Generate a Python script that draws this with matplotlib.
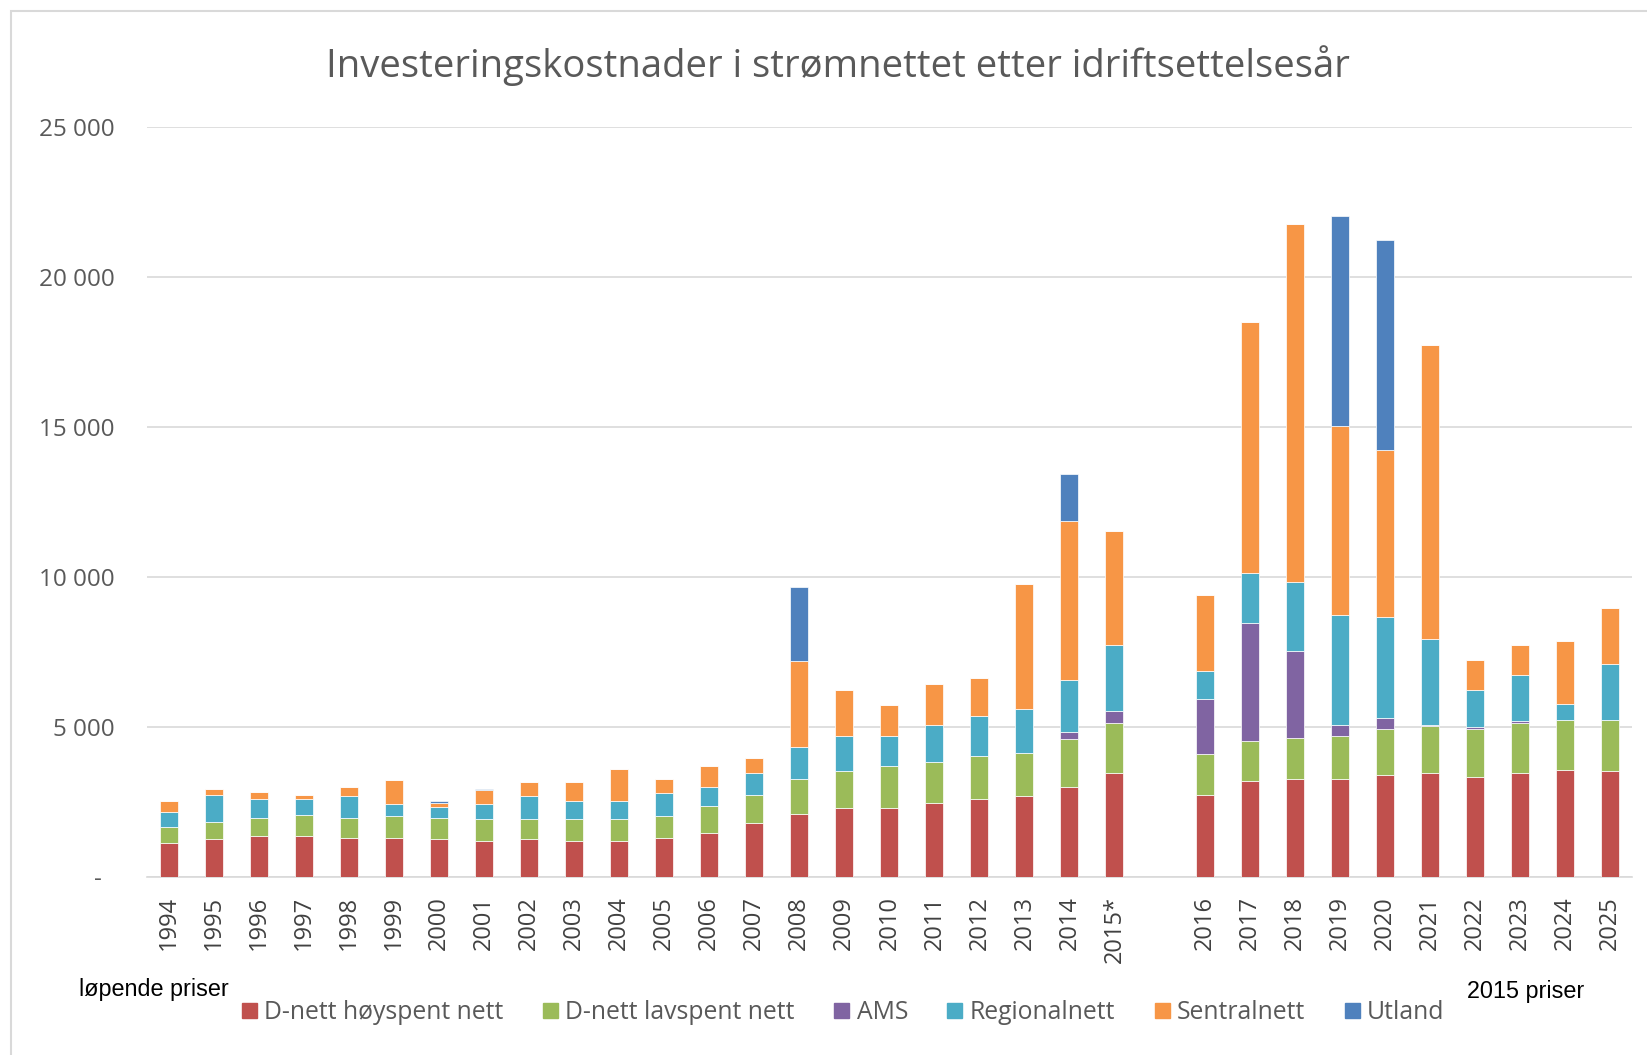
import numpy as np
import matplotlib.pyplot as plt
from matplotlib.patches import Patch, Rectangle
from matplotlib.ticker import FuncFormatter

# categories (the '' entry is the empty slot between 2015* and 2016)
years = ["1994", "1995", "1996", "1997", "1998", "1999", "2000", "2001", "2002",
         "2003", "2004", "2005", "2006", "2007", "2008", "2009", "2010", "2011",
         "2012", "2013", "2014", "2015*", "",
         "2016", "2017", "2018", "2019", "2020", "2021", "2022", "2023", "2024", "2025"]

# MNOK per segment
d_hoy = [1140, 1240, 1340, 1340, 1290, 1290, 1240, 1190, 1240, 1190, 1190, 1290,
         1470, 1780, 2080, 2290, 2290, 2470, 2580, 2680, 2980, 3470, 0,
         2720, 3180, 3270, 3270, 3400, 3470, 3330, 3470, 3560, 3510]
d_lav = [520, 570, 630, 730, 680, 730, 730, 730, 680, 730, 730, 730,
         900, 950, 1190, 1240, 1390, 1360, 1440, 1440, 1600, 1650, 0,
         1360, 1340, 1340, 1430, 1520, 1550, 1600, 1640, 1660, 1710]
ams = [0, 0, 0, 0, 0, 0, 0, 0, 0, 0, 0, 0,
       0, 0, 0, 0, 0, 0, 0, 0, 230, 410, 0,
       1840, 3940, 2920, 370, 360, 50, 50, 70, 0, 0]
regional = [510, 920, 610, 510, 710, 400, 350, 500, 760, 610, 610, 760,
            610, 740, 1050, 1150, 1000, 1240, 1350, 1460, 1750, 2180, 0,
            950, 1660, 2290, 3650, 3390, 2850, 1230, 1550, 550, 1860]
sentral = [360, 200, 250, 150, 300, 800, 150, 460, 490, 640, 1050, 490,
           700, 500, 2880, 1540, 1030, 1340, 1240, 4170, 5290, 3800, 0,
           2530, 8380, 11940, 6290, 5540, 9790, 1000, 980, 2090, 1880]
utland = [0, 0, 0, 0, 0, 0, 60, 50, 0, 0, 0, 0,
          0, 0, 2460, 0, 0, 0, 0, 0, 1560, 0, 0,
          0, 0, 0, 7020, 7010, 0, 0, 0, 0, 0]

series = [("D-nett høyspent nett", d_hoy, "#C0504D"),
          ("D-nett lavspent nett", d_lav, "#9BBB59"),
          ("AMS", ams, "#8064A2"),
          ("Regionalnett", regional, "#4BACC6"),
          ("Sentralnett", sentral, "#F79646"),
          ("Utland", utland, "#4F81BD")]

plt.rcParams['font.family'] = ['Open Sans', 'DejaVu Sans']

fig = plt.figure(figsize=(16.47, 10.55), dpi=100)
ax = fig.add_axes([0.089, 0.169, 0.902, 0.711])

x = np.arange(len(years))
bottom = np.zeros(len(years))
for name, vals, col in series:
    vals = np.array(vals, dtype=float)
    ax.bar(x, vals, 0.4, bottom=bottom, color=col, edgecolor="white",
           linewidth=0.5, label=name, zorder=3)
    bottom += vals

ax.set_xlim(-0.5, len(years) - 0.5)
ax.set_ylim(0, 25000)
ax.set_yticks(np.arange(0, 25001, 5000))
ax.yaxis.set_major_formatter(FuncFormatter(
    lambda v, p: "-  " if v == 0 else f"{v:,.0f}".replace(",", " ")))
ax.set_xticks(x)
ax.set_xticklabels(years, rotation=90)
ax.tick_params(axis="y", length=0, pad=23, labelsize=17.5, labelcolor="#595959")
ax.tick_params(axis="x", length=0, pad=14, labelsize=17, labelcolor="#404040")
ax.grid(axis="y", color="#D9D9D9", linewidth=1.2, zorder=0)
for s in ["top", "right", "left"]:
    ax.spines[s].set_visible(False)
ax.spines["bottom"].set_color("#D9D9D9")
ax.spines["bottom"].set_linewidth(1.2)

fig.text(0.509, 0.938, "Investeringskostnader i strømnettet etter idriftsettelsesår",
         ha="center", va="center", fontsize=27.5, color="#595959")

narrow = ['Liberation Sans Narrow', 'Liberation Sans', 'DejaVu Sans']
fig.text(0.048, 0.062, "løpende priser", fontsize=16.8, family=narrow, va="center")
fig.text(0.891, 0.060, "2015 priser", fontsize=16.8, family=narrow, va="center")

handles = [Patch(color=c, label=n) for n, v, c in series]
fig.legend(handles=handles, loc="center", bbox_to_anchor=(0.512, 0.04), ncol=6,
           frameon=False, fontsize=17.8, handlelength=0.6, handleheight=0.6,
           handletextpad=0.3, columnspacing=1.6, labelcolor="#595959")

# chart area border
fig.add_artist(Rectangle((11 / 1647, -0.1), 1.2, 1.1 - 11 / 1055, transform=fig.transFigure,
                         fill=False, edgecolor="#D9D9D9", linewidth=1.5))

fig.savefig("out.png", dpi=100)
